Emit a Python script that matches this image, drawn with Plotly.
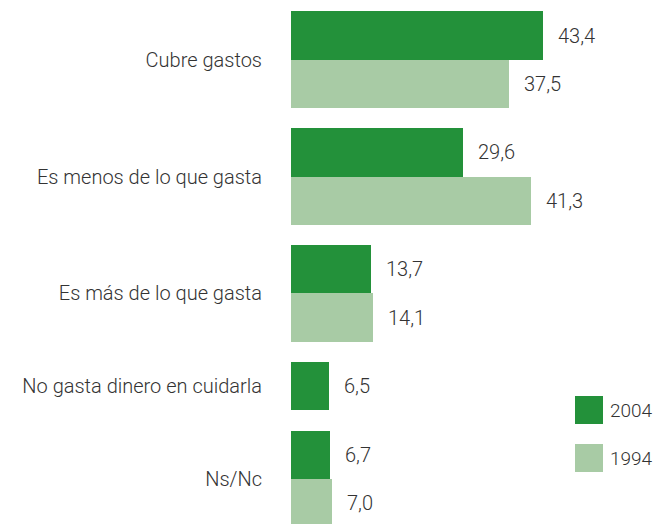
import plotly.graph_objects as go

categories = ["Cubre gastos", "Es menos de lo que gasta", "Es más de lo que gasta",
              "No gasta dinero en cuidarla", "Ns/Nc"]
series_names = ["2004", "1994"]
v2004 = [43.4, 29.6, 13.7, 6.5, 6.7]
v1994 = [37.5, 41.3, 14.1, None, 7.0]

colors = {"2004": "#23913a", "1994": "#a8cba5"}
text_color = "#333333"
FONT = "Roboto"
FW = 300

# page body has an 8px margin; work in figure pixels
OFF = 8
W, H = 663 - OFF, 524 - OFF
LEFT = 291 - OFF

# compute slot positions: each bar occupies one unit, groups separated by a gap
GAP = 0.42
pos = {"2004": [], "1994": []}
tick_pos = []
k = 0.0
for i, c in enumerate(categories):
    slots = []
    for name, vals in (("2004", v2004), ("1994", v1994)):
        if vals[i] is not None:
            pos[name].append(k)
            slots.append(k)
            k += 1
        else:
            pos[name].append(None)
    tick_pos.append(sum(slots) / len(slots))
    k += GAP

fig = go.Figure()
annotations = []
for name, vals in (("2004", v2004), ("1994", v1994)):
    xs = [v for v in vals if v is not None]
    ys = [p for p, v in zip(pos[name], vals) if v is not None]
    fig.add_trace(go.Bar(x=xs, y=ys, orientation="h", width=1.0,
                         marker=dict(color=colors[name], line=dict(width=0)),
                         name=name, showlegend=False, hoverinfo="x"))
    for x, y in zip(xs, ys):
        annotations.append(dict(x=x, y=y, xref="x", yref="y", xanchor="left",
                                yanchor="middle", xshift=13, showarrow=False,
                                text=f"{x:.1f}".replace(".", ","),
                                font=dict(family=FONT, size=20, weight=FW, color=text_color)))

# legend drawn manually (screen pixel targets converted to paper fractions)
shapes = []
leg_y = [410, 458]
plot_w = W - LEFT
for name, yc in zip(series_names, leg_y):
    yc_f = yc - OFF
    shapes.append(dict(type="rect", xref="paper", yref="paper",
                       x0=(575 - 291) / plot_w, x1=(603 - 291) / plot_w,
                       y0=1 - (yc_f + 14) / H, y1=1 - (yc_f - 14) / H,
                       fillcolor=colors[name], line=dict(width=0)))
    annotations.append(dict(x=(608 - 291) / plot_w, y=1 - yc_f / H, xref="paper", yref="paper",
                            xanchor="left", yanchor="middle", showarrow=False, text=name,
                            font=dict(family=FONT, size=19, weight=FW, color=text_color)))

px_per_unit = 5.806
bar_px = 48.3
c0 = 35.5 - OFF
fig.update_layout(
    width=W, height=H,
    margin=dict(l=LEFT, r=0, t=0, b=0, autoexpand=False),
    paper_bgcolor="white", plot_bgcolor="white",
    bargap=0,
    xaxis=dict(range=[0, plot_w / px_per_unit], visible=False, fixedrange=True,
               automargin=False),
    yaxis=dict(range=[(H - c0) / bar_px, -c0 / bar_px], tickvals=tick_pos,
               ticktext=categories, showgrid=False, zeroline=False, showline=False,
               ticks="", ticklabelstandoff=28, automargin=False, fixedrange=True,
               tickfont=dict(family=FONT, size=20, weight=FW, color=text_color)),
    annotations=annotations, shapes=shapes,
)
fig.write_html("out.html", default_width=f"{W}px", default_height=f"{H}px",
               post_script="document.documentElement.style.overflow='hidden';"
                           "document.body.style.overflow='hidden';")
